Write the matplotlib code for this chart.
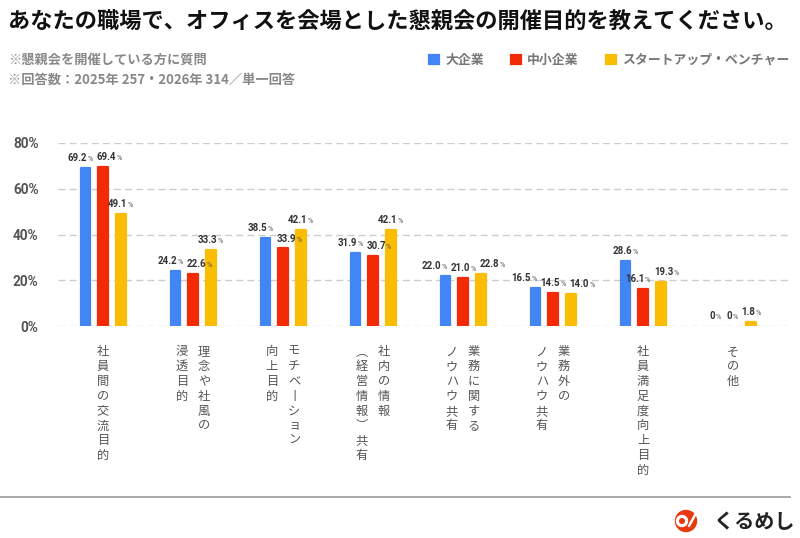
import matplotlib
matplotlib.use("Agg")
import matplotlib.pyplot as plt
from matplotlib.patches import Circle
import numpy as np

plt.rcParams['font.family'] = ['Noto Sans CJK JP', 'DejaVu Sans']

# --- data ---
categories = [
    ["社員間の交流目的"],
    ["理念や社風の", "浸透目的"],
    ["モチベーション", "向上目的"],
    ["社内の情報", "（経営情報）共有"],
    ["業務に関する", "ノウハウ共有"],
    ["業務外の", "ノウハウ共有"],
    ["社員満足度向上目的"],
    ["その他"],
]
series_names = ["大企業", "中小企業", "スタートアップ・ベンチャー"]
large = [69.2, 24.2, 38.5, 31.9, 22.0, 16.5, 28.6, 0]
small = [69.4, 22.6, 33.9, 30.7, 21.0, 14.5, 16.1, 0]
startup = [49.1, 33.3, 42.1, 42.1, 22.8, 14.0, 19.3, 1.8]
yticks = [0, 20, 40, 60, 80]
colors = ["#4285F4", "#F22A05", "#FBBC04"]

W, H = 800, 538
fig = plt.figure(figsize=(8, 5.38), dpi=100)
ax = fig.add_axes([58 / W, (H - 326) / H, 732 / W, 183 / H])

x = np.arange(len(categories))
width = 0.11
offs = [-0.195, 0, 0.195]
num_font = ['Roboto', 'DejaVu Sans']
series = [large, small, startup]
bars = []
labels = []
for vals, off, c in zip(series, offs, colors):
    b = ax.bar(x + off, vals, width, color=c, edgecolor=c,
               linewidth=[1.6 if v > 0 else 0 for v in vals],
               joinstyle="round", zorder=3)
    bars.append(b)
    row = []
    for xi, v in zip(x + off, vals):
        num = "0" if v == 0 else f"{v:.1f}"
        t1 = ax.annotate(num, (xi, v), xytext=(0, 3.5), textcoords="offset points",
                         ha="right", va="bottom", fontsize=7.0, fontweight="bold",
                         family=num_font, color="#333333", zorder=4)
        t2 = ax.annotate("%", (xi, v), xytext=(0, 3.5), textcoords="offset points",
                         ha="left", va="bottom", fontsize=5.2, family=num_font,
                         color="#555555", zorder=4)
        row.append((t1, t2))
    labels.append(row)

ax.set_xlim(-0.5, -0.5 + 732 / 90)
ax.set_ylim(0, 80)
ax.set_yticks(yticks)
ax.set_yticklabels([f"{t}%" for t in yticks], fontsize=9.8, fontweight="bold",
                   color="#555555", family=num_font)
ax.tick_params(axis="y", length=0, pad=14)
ax.set_xticks([])
for s in ax.spines.values():
    s.set_visible(False)
ax.yaxis.grid(True, linestyle=(0, (5, 3)), color="#cccccc", linewidth=1, zorder=0)
ax.set_axisbelow(True)

# spread value labels that would collide within a group
renderer = fig.canvas.get_renderer()
px2pt = 72 / fig.dpi
gap = 4
for g in range(len(categories)):
    cx = [ax.transData.transform((x[g] + offs[s], 0))[0] for s in range(3)]
    ty = [ax.transData.transform((0, series[s][g]))[1] for s in range(3)]
    wn = [labels[s][g][0].get_window_extent(renderer).width for s in range(3)]
    wp = [labels[s][g][1].get_window_extent(renderer).width for s in range(3)]
    w = [a + b for a, b in zip(wn, wp)]
    c = list(cx)
    for _ in range(30):
        for i in range(2):
            j = i + 1
            if abs(ty[i] - ty[j]) < 11:
                ov = (c[i] + w[i] / 2 + gap) - (c[j] - w[j] / 2)
                if ov > 0:
                    c[i] -= ov / 2
                    c[j] += ov / 2
    for s in range(3):
        split = c[s] - w[s] / 2 + wn[s] - cx[s]
        labels[s][g][0].xyann = (split * px2pt, 3.5)
        labels[s][g][1].xyann = (split * px2pt + 0.3, 3.5)

# vertical category labels (columns read right to left)
def vert(s):
    s = s.replace("ー", "丨").replace("（", "︵").replace("）", "︶")
    return "\n".join(s)

for xi, cols in zip(x, categories):
    n = len(cols)
    for j, col in enumerate(cols):
        dx = 0 if n == 1 else (8 if j == 0 else -8)
        ax.annotate(vert(col), (xi, 0), xycoords=("data", "axes fraction"),
                    xytext=(dx, -14), textcoords="offset points",
                    ha="center", va="top", fontsize=8.8, color="#555555",
                    linespacing=1.18, annotation_clip=False)

# title and notes
fig.text(8 / W, 1 - 22 / H, "あなたの職場で、オフィスを会場とした懇親会の開催目的を教えてください。",
         fontsize=16.0, fontweight="bold", va="center", ha="left", color="#111111")
fig.text(8 / W, 1 - 60 / H, "※懇親会を開催している方に質問", fontsize=9.5,
         color="#888888", va="center", fontweight="bold")
fig.text(8 / W, 1 - 80 / H, "※回答数：2025年 257・2026年 314／単一回答", fontsize=9.5,
         color="#888888", va="center", fontweight="bold")

# legend
fig.legend(bars, series_names, loc="center left", bbox_to_anchor=(424 / W, 1 - 60 / H),
           ncol=3, frameon=False, handlelength=0.75, handleheight=0.75,
           handletextpad=0.5, columnspacing=2.1, borderaxespad=0,
           prop={"size": 9.3, "weight": "bold"}, labelcolor="#777777")

# footer
fig.add_artist(plt.Line2D([0, 790 / W], [1 - 497 / H] * 2, color="#999999", linewidth=1.2))
fax = fig.add_axes([0, 0, 1, 1], zorder=-1)
fax.set_xlim(0, W)
fax.set_ylim(H, 0)
fax.set_aspect("equal")
fax.axis("off")
fax.add_patch(Circle((686, 521), 10.5, color="#E8380D"))
fax.add_patch(Circle((682, 521), 5.5, color="white"))
fax.add_patch(Circle((682, 521), 2.3, color="#E8380D"))
fax.plot([689, 695], [526, 515], color="white", linewidth=1.8, solid_capstyle="round")
fig.text(754 / W, 1 - 521 / H, "くるめし", fontsize=14.5, fontweight="bold",
         ha="center", va="center", color="#222222")

fig.savefig("out.png", dpi=100, facecolor="white")
